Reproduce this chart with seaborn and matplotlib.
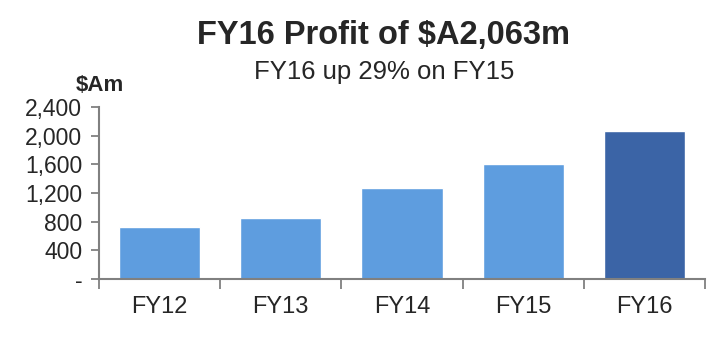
import matplotlib
matplotlib.use("Agg")
import matplotlib.pyplot as plt
import seaborn as sns
import pandas as pd

categories = ["FY12", "FY13", "FY14", "FY15", "FY16"]
profit = [730, 851, 1265, 1604, 2063]
bar_colors = ["#5E9DDF", "#5E9DDF", "#5E9DDF", "#5E9DDF", "#3B64A6"]
ytick_values = [0, 400, 800, 1200, 1600, 2000, 2400]
ytick_labels = ["-", "400", "800", "1,200", "1,600", "2,000", "2,400"]

sns.set_theme(style="white")
plt.rcParams['font.family'] = ['Liberation Sans', 'DejaVu Sans']

df = pd.DataFrame({"cat": categories, "val": profit})

fig = plt.figure(figsize=(7.16, 3.38), dpi=100)
ax = fig.add_axes([0.138, 0.175, 0.847, 0.508])
sns.barplot(data=df, x="cat", y="val", hue="cat", palette=bar_colors,
            legend=False, width=0.67, saturation=1, ax=ax)

text_color = "#262626"
axis_color = "#808080"

ax.set_xlim(-0.5, len(categories) - 0.5)
ax.set_ylim(0, 2400)
ax.set_yticks(ytick_values)
ax.set_yticklabels(ytick_labels, fontsize=16.5, color=text_color)
ax.set_xticks(range(len(categories)))
ax.set_xticklabels(categories, fontsize=17, color=text_color)
ax.set_xticks([i - 0.5 for i in range(len(categories) + 1)], minor=True)
ax.tick_params(axis="x", which="major", length=0, pad=12)
ax.tick_params(axis="x", which="minor", length=7, width=1.3, color=axis_color, direction="out", bottom=True)
ax.tick_params(axis="y", which="major", length=6, width=1.3, color=axis_color, direction="out", left=True, pad=6)
ax.set_xlabel("")
ax.set_ylabel("")
for s in ["top", "right"]:
    ax.spines[s].set_visible(False)
for s in ["left", "bottom"]:
    ax.spines[s].set_color(axis_color)
    ax.spines[s].set_linewidth(1.5)

fig.text(0.536, 0.895, "FY16 Profit of $A2,063m", ha="center", va="center",
         fontsize=23.5, fontweight="bold", color=text_color)
fig.text(0.536, 0.788, "FY16 up 29% on FY15", ha="center", va="center",
         fontsize=18.5, color=text_color)
fig.text(0.14, 0.748, "$Am", ha="center", va="center",
         fontsize=16, fontweight="bold", color=text_color)

fig.savefig("out.png", dpi=100)
